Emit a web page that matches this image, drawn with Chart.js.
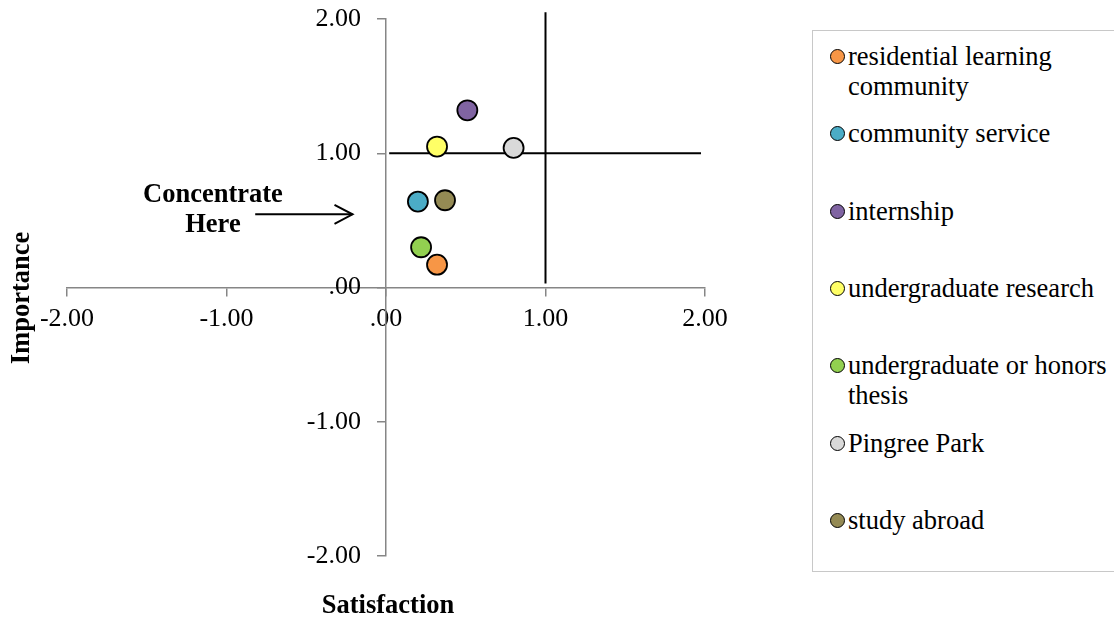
<!DOCTYPE html>
<html>
<head>
<meta charset="utf-8">
<script src="https://cdn.jsdelivr.net/npm/chart.js@4/dist/chart.umd.min.js"></script>
<style>
  html, body { margin: 0; padding: 0; background: #fff; width: 1114px; height: 620px; overflow: hidden; }
  #wrap { position: relative; width: 1114px; height: 620px; }
  #c { position: absolute; left: 0; top: 0; }
  #legend { position: absolute; left: 812px; top: 30px; width: 320px; height: 542px; border: 1.5px solid #c8c8c8; box-sizing: border-box; font-family: "Liberation Serif", "Times New Roman", serif; font-size: 26.5px; color: #000; }
  .item { position: absolute; left: 35px; line-height: 30px; width: 280px; white-space: nowrap; }
  .mk { position: absolute; left: -18px; top: 8px; width: 13px; height: 13px; border-radius: 50%; border: 1.5px solid #000; box-sizing: content-box; }
</style>
</head>
<body>
<div id="wrap">
  <canvas id="c" width="780" height="620"></canvas>
  <div id="legend"></div>
</div>
<script>
// ---- data ----
const seriesNames = ["residential learning community", "community service", "internship", "undergraduate research", "undergraduate or honors thesis", "Pingree Park", "study abroad"];
const satisfaction = [0.32, 0.20, 0.51, 0.32, 0.22, 0.80, 0.37];
const importance   = [0.17, 0.64, 1.32, 1.05, 0.30, 1.04, 0.65];
const seriesColors = ["#F79646", "#4BACC6", "#8064A2", "#FFFF66", "#92D050", "#D9D9D9", "#948A54"];
const legendLines = [["residential learning", "community"], ["community service"], ["internship"], ["undergraduate research"], ["undergraduate or honors", "thesis"], ["Pingree Park"], ["study abroad"]];
const xTicks = [-2, -1, 0, 1, 2];
const yTicks = [-2, -1, 0, 1, 2];
const vLineX = [1, 1];  const vLineY = [0.03, 2.05];
const hLineX = [0.02, 1.975]; const hLineY = [1, 1];
const arrowX = [-0.82, -0.21]; const arrowY = [0.545, 0.545];
const noteText = ["Concentrate", "Here"];
const noteX = -1.085; const noteY = [0.688, 0.468];

const FONT = '"Liberation Serif", "Times New Roman", serif';
const fmt = v => (v === 0 ? ".00" : Number(v).toFixed(2));

const datasets = seriesNames.map((n, i) => ({
  type: 'scatter',
  label: n,
  data: [{ x: satisfaction[i], y: importance[i] }],
  backgroundColor: seriesColors[i],
  borderColor: '#000',
  borderWidth: 1.8,
  pointRadius: 10,
  pointHoverRadius: 10
}));
datasets.push({
  type: 'line', label: '_v', data: vLineX.map((x, i) => ({ x, y: vLineY[i] })),
  borderColor: '#000', borderWidth: 2, pointRadius: 0, clip: false, order: 10
});
datasets.push({
  type: 'line', label: '_h', data: hLineX.map((x, i) => ({ x, y: hLineY[i] })),
  borderColor: '#000', borderWidth: 2, pointRadius: 0, clip: false, order: 10
});

const notePlugin = {
  id: 'note',
  afterDraw(chart) {
    const { ctx, scales: { x, y } } = chart;
    ctx.save();
    // arrow
    const x1 = x.getPixelForValue(arrowX[0]), x2 = x.getPixelForValue(arrowX[1]);
    const ya = y.getPixelForValue(arrowY[0]);
    ctx.strokeStyle = '#000'; ctx.lineWidth = 2;
    ctx.beginPath(); ctx.moveTo(x1, ya); ctx.lineTo(x2, ya); ctx.stroke();
    ctx.beginPath(); ctx.moveTo(x2 - 18, ya - 9.5); ctx.lineTo(x2, ya); ctx.lineTo(x2 - 18, ya + 9.5); ctx.stroke();
    // note text
    ctx.fillStyle = '#000';
    ctx.font = 'bold 26.5px ' + FONT;
    ctx.textAlign = 'center'; ctx.textBaseline = 'middle';
    noteText.forEach((t, i) => ctx.fillText(t, x.getPixelForValue(noteX), y.getPixelForValue(noteY[i])));
    // axis titles
    ctx.fillText('Satisfaction', 388, 606);
    ctx.translate(22, 298); ctx.rotate(-Math.PI / 2);
    ctx.fillText('Importance', 0, 0);
    ctx.restore();
  }
};

const zeroPad = s => { s.paddingTop = 0; s.paddingBottom = 0; s.paddingLeft = 0; s.paddingRight = 0; };

new Chart(document.getElementById('c'), {
  type: 'scatter',
  data: { datasets },
  options: {
    responsive: false,
    animation: false,
    events: [],
    layout: { padding: { left: 67, right: 75, top: 19, bottom: 64 } },
    plugins: { legend: { display: false }, tooltip: { enabled: false } },
    scales: {
      x: {
        type: 'linear', min: -2, max: 2, position: { y: 0 },
        afterBuildTicks: s => { s.ticks = xTicks.map(v => ({ value: v })); },
        afterFit: s => { s.height = 0; zeroPad(s); },
        ticks: { callback: fmt, font: { family: FONT, size: 26 }, color: '#000', padding: 8, maxRotation: 0, autoSkip: false },
        grid: { drawOnChartArea: false, drawTicks: true, tickLength: 8, color: '#868686', lineWidth: 1.5 },
        border: { color: '#868686', width: 1.5 }
      },
      y: {
        type: 'linear', min: -2, max: 2, position: 'center',
        afterBuildTicks: s => { s.ticks = yTicks.map(v => ({ value: v })); },
        afterFit: s => { s.width = 0; zeroPad(s); },
        ticks: { callback: fmt, font: { family: FONT, size: 26 }, color: '#000', padding: 17, autoSkip: false },
        grid: { drawOnChartArea: false, drawTicks: true, tickLength: 8, color: '#868686', lineWidth: 1.5 },
        border: { color: '#868686', width: 1.5 }
      }
    }
  },
  plugins: [notePlugin]
});

// legend (HTML) built from the series arrays
const lg = document.getElementById('legend');
seriesNames.forEach((n, i) => {
  const d = document.createElement('div');
  d.className = 'item';
  d.style.top = (10 + i * 77.33) + 'px';
  const m = document.createElement('span');
  m.className = 'mk'; m.style.background = seriesColors[i];
  d.appendChild(m);
  legendLines[i].forEach((t, k) => {
    if (k) d.appendChild(document.createElement('br'));
    d.appendChild(document.createTextNode(t));
  });
  lg.appendChild(d);
});
</script>
</body>
</html>
